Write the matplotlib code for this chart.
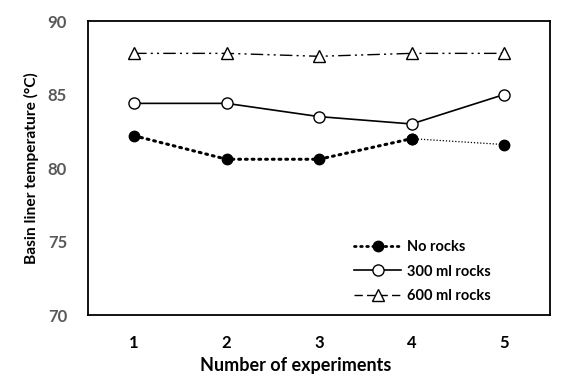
import matplotlib
matplotlib.use("Agg")
import matplotlib.pyplot as plt
from matplotlib.lines import Line2D

experiments = [1, 2, 3, 4, 5]
no_rocks = [82.2, 80.6, 80.6, 82.0, 81.6]
rocks_300 = [84.4, 84.4, 83.5, 83.0, 85.0]
rocks_600 = [87.8, 87.8, 87.6, 87.8, 87.8]
y_ticks = [70, 75, 80, 85, 90]

plt.rcParams["font.family"] = ["Lato", "DejaVu Sans"]
plt.rcParams["font.weight"] = "bold"

fig = plt.figure(figsize=(5.78, 3.82), dpi=100)
ax = fig.add_axes([0.152, 0.175, 0.800, 0.770])

# No rocks: heavy dots for 1-4, thin dots for the last step
ax.plot(experiments[:4], no_rocks[:4], color="black", lw=2.2, ls=(0, (0.6, 1.6)),
        dash_capstyle="round", marker="o", ms=7.5, mfc="black", mec="black")
ax.plot(experiments[3:], no_rocks[3:], color="black", lw=0.9, ls=(0, (1, 1.5)),
        marker="o", ms=7.5, mfc="black", mec="black")
ax.plot(experiments, rocks_300, color="black", lw=1.2, marker="o", ms=8,
        mfc="white", mec="black", mew=1.0)
ax.plot(experiments, rocks_600, color="black", lw=1.0,
        ls=(0, (9, 3, 1.5, 3, 1.5, 3)), marker="^", ms=8, mfc="white",
        mec="black", mew=1.0)

ax.set_xlim(0.5, 5.5)
ax.set_ylim(70, 90)
ax.set_xticks(experiments)
ax.set_yticks(y_ticks)
ax.tick_params(length=0, labelsize=12)
ax.tick_params(axis="x", pad=14)
ax.tick_params(axis="y", pad=15, labelcolor="#595959")
for s in ax.spines.values():
    s.set_linewidth(1.3)

ax.set_xlabel("Number of experiments", fontsize=13, fontweight="bold")
ax.xaxis.set_label_coords(0.45, -0.142)
ax.set_ylabel("Basin liner temperature (\u00b0C)", fontsize=11.2, fontweight="bold",
              labelpad=6)

handles = [
    Line2D([], [], color="black", lw=2.0, ls=(0, (0.6, 1.6)), dash_capstyle="round",
           marker="o", ms=7.5, mfc="black"),
    Line2D([], [], color="black", lw=1.2, marker="o", ms=8, mfc="white"),
    Line2D([], [], color="black", lw=1.0, ls=(0, (6, 3)), marker="^", ms=8,
           mfc="white"),
]
ax.legend(handles, ["No rocks", "300 ml rocks", "600 ml rocks"], loc="lower left",
          bbox_to_anchor=(0.548, -0.005), frameon=False, fontsize=10.5,
          handlelength=3.2, handletextpad=0.4, labelspacing=0.75)

fig.savefig("out.png", dpi=100)
